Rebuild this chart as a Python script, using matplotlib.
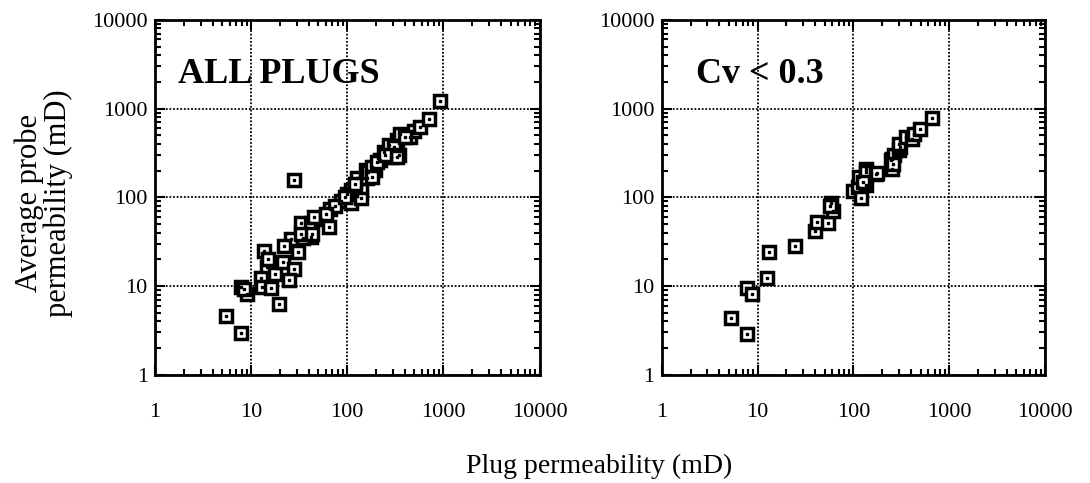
import matplotlib.pyplot as plt
from matplotlib.ticker import LogLocator, NullFormatter, FixedLocator

plt.rcParams['font.family'] = ['Liberation Serif', 'DejaVu Serif']

# ALL PLUGS: plug permeability vs average probe permeability (mD)
all_plug = [5.5, 7.9, 9.2, 7.9, 8.5, 19.6, 13.7, 14.8, 12.7, 13, 16.1, 17.7, 21.3,
            27.7, 25, 25.9, 30.5, 28.1, 33, 41.7, 41.7, 34.4, 33, 43.5, 53, 65, 67,
            86, 109, 138, 109, 138, 128, 162, 158, 197, 222, 164, 182, 205, 240,
            271, 331, 306, 283, 344, 331, 455, 492, 578, 705, 931, 15, 22, 45, 75,
            100, 120, 180, 250, 350, 400, 60, 95]
all_probe = [4.56, 2.98, 8.1, 9.8, 9.2, 6.2, 25, 16.4, 12.4, 9.8, 9.6, 13.5, 18.6,
             15.7, 11.7, 34, 24, 157, 52, 52, 35.3, 35, 38.5, 38.5, 56.5, 46, 73,
             90, 86, 98, 122, 132, 164, 164, 203, 203, 262, 194, 221, 251, 324,
             385, 437, 369, 286, 298, 281, 476, 565, 615, 760, 1219, 20, 28, 60,
             80, 110, 140, 170, 300, 520, 480, 65, 100]

# Cv < 0.3 subset
cv_plug = [5.3, 7.8, 7.8, 8.8, 12.4, 13.1, 24.7, 39.6, 41.2, 54.3, 61, 59, 57,
           98, 111, 120, 115, 135, 135, 135, 171, 178, 254, 245, 254, 265, 298,
           309, 298, 349, 409, 426, 499, 657, 260, 125]
cv_probe = [4.4, 2.86, 9.4, 8.15, 12.2, 24.5, 28.5, 41.9, 52.7, 51.8, 70, 86.5, 80,
            117, 132, 98, 171, 138, 206, 194, 183, 186, 208, 262, 273, 298, 339,
            369, 401, 476, 456, 518, 589, 780, 240, 150]

decades = [1, 10, 100, 1000, 10000]
tick_labels = ['1', '10', '100', '1000', '10000']

fig = plt.figure(figsize=(10.9, 4.83), dpi=100)
ax1 = fig.add_axes([0.142, 0.224, 0.353, 0.735])
ax2 = fig.add_axes([0.607, 0.224, 0.352, 0.735])

for ax, xs, ys, title, tx in [(ax1, all_plug, all_probe, 'ALL PLUGS', 0.06),
                              (ax2, cv_plug, cv_probe, 'Cv < 0.3', 0.09)]:
    ax.set_xscale('log')
    ax.set_yscale('log')
    ax.set_xlim(1, 10000)
    ax.set_ylim(1, 10000)
    ax.plot(xs, ys, 's', ms=8.5, mfc='white', mec='black', mew=2.5, zorder=3)
    ax.plot(xs, ys, 's', ms=1.6, color='black', zorder=4)
    ax.xaxis.set_major_locator(FixedLocator(decades))
    ax.yaxis.set_major_locator(FixedLocator(decades))
    ax.set_xticklabels(tick_labels)
    ax.set_yticklabels(tick_labels)
    ax.xaxis.set_minor_locator(LogLocator(base=10, subs=range(2, 10)))
    ax.yaxis.set_minor_locator(LogLocator(base=10, subs=range(2, 10)))
    ax.xaxis.set_minor_formatter(NullFormatter())
    ax.yaxis.set_minor_formatter(NullFormatter())
    ax.tick_params(which='both', direction='in', top=True, right=True, width=1.5)
    ax.tick_params(which='major', length=7, labelsize=16)
    ax.tick_params(which='minor', length=4)
    ax.tick_params(axis='x', which='major', pad=20)
    ax.tick_params(axis='y', which='major', pad=5)
    ax.grid(True, which='major', color='black', linestyle=(0, (1, 1)), lw=1.3)
    for s in ax.spines.values():
        s.set_linewidth(2)
    ax.text(tx, 0.845, title, transform=ax.transAxes, fontsize=26,
            fontweight='bold', va='center', ha='left')

fig.text(0.04, 0.58, 'Average probe\npermeability (mD)', rotation=90,
         ha='center', va='center', fontsize=22, linespacing=1.0)
fig.text(0.55, 0.035, 'Plug permeability (mD)', ha='center', va='center',
         fontsize=20)

fig.savefig('out.png', dpi=100)
